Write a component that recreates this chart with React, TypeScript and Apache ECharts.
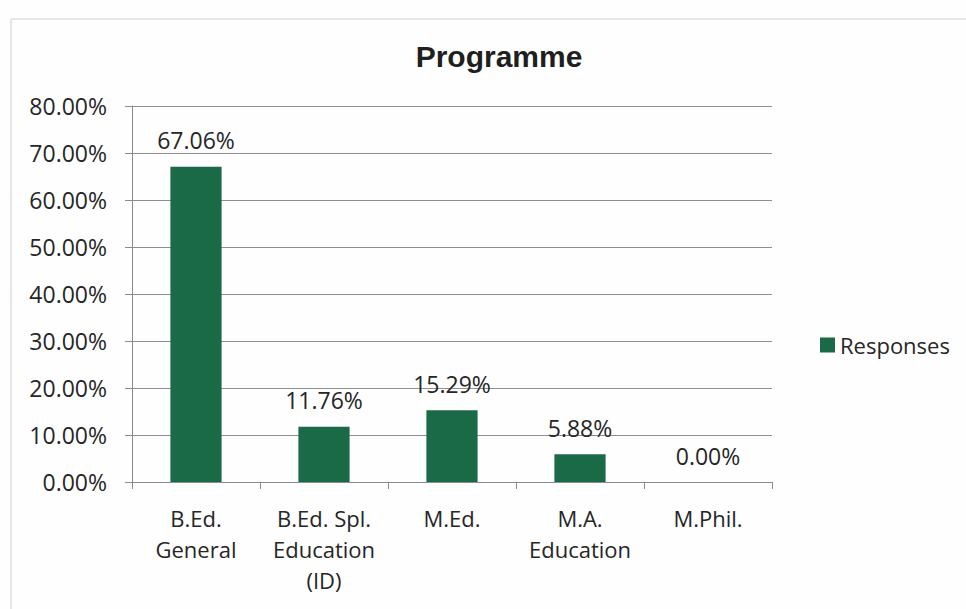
import React, { useEffect, useRef } from "react";
import * as echarts from "echarts";

const categories = ["B.Ed.\nGeneral", "B.Ed. Spl.\nEducation\n(ID)", "M.Ed.", "M.A.\nEducation", "M.Phil."];
const responses = [67.06, 11.76, 15.29, 5.88, 0.0];
const seriesName = "Responses";
const chartTitle = "Programme";

const FONT = "Open Sans";

export default function App() {
  const ref = useRef<HTMLDivElement>(null);
  useEffect(() => {
    if (!ref.current) return;
    const chart = echarts.init(ref.current, null, { renderer: "svg" });
    chart.setOption({
      animation: false,
      backgroundColor: "#fefefe",
      title: {
        text: chartTitle,
        left: 494,
        top: 36,
        textAlign: "center",
        textStyle: { fontFamily: "Liberation Sans", fontWeight: "bold", fontSize: 30, color: "#1f1f1f" },
      },
      legend: {
        orient: "vertical",
        left: 815,
        top: 329,
        itemWidth: 15,
        itemHeight: 15,
        itemGap: 8,
        icon: "rect",
        textStyle: { fontFamily: FONT, fontSize: 22, color: "#262626" },
        data: [seriesName],
      },
      graphic: [
        {
          type: "rect",
          shape: { x: 11, y: 19, width: 960, height: 600 },
          style: { fill: "none", stroke: "#cfcfcf", lineWidth: 1 },
          silent: true,
        },
      ],
      grid: { left: 132, right: 194, top: 106, bottom: 127 },
      xAxis: {
        type: "category",
        data: categories,
        axisLine: { show: true, lineStyle: { color: "#8a8a8a", width: 1 } },
        axisTick: { show: true, length: 7, lineStyle: { color: "#8a8a8a" } },
        axisLabel: { fontFamily: FONT, fontSize: 22, color: "#262626", lineHeight: 31, margin: 20, interval: 0 },
      },
      yAxis: {
        type: "value",
        min: 0,
        max: 80,
        interval: 10,
        axisLine: { show: true, lineStyle: { color: "#8a8a8a" } },
        axisTick: { show: true, length: 7, lineStyle: { color: "#8a8a8a" } },
        splitLine: { show: true, lineStyle: { color: "#8f8f8f", width: 1 } },
        axisLabel: {
          fontFamily: FONT,
          fontSize: 23,
          color: "#262626",
          margin: 25,
          formatter: (v: number) => v.toFixed(2) + "%",
        },
      },
      series: [
        {
          name: seriesName,
          type: "bar",
          data: responses,
          barWidth: "40%",
          itemStyle: { color: "#1b6a47" },
          label: {
            show: true,
            position: "top",
            distance: 15,
            fontFamily: FONT,
            fontSize: 23,
            color: "#262626",
            formatter: (p: any) => Number(p.value).toFixed(2) + "%",
          },
        },
      ],
    });
    return () => chart.dispose();
  }, []);
  return <div ref={ref} style={{ position: "fixed", left: 0, top: 0, width: 966, height: 609 }} />;
}
